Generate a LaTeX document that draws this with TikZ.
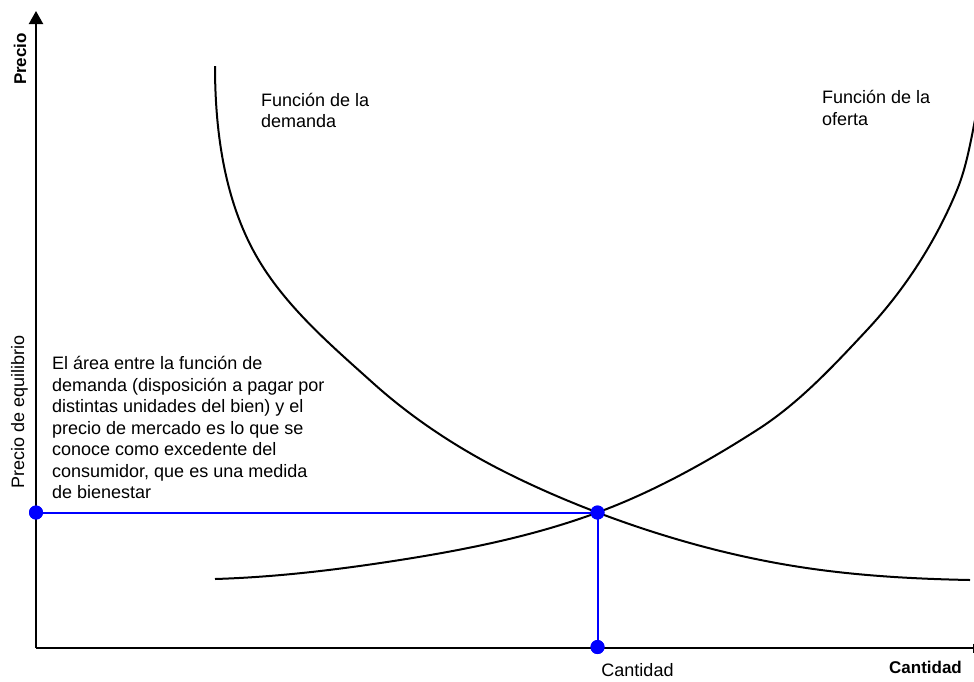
\documentclass[tikz,border=0pt]{standalone}
\usepackage{fontspec}
\setmainfont{Liberation Sans}
\usetikzlibrary{arrows.meta}
\begin{document}
\begin{tikzpicture}[x=1pt,y=-1pt,
  curve/.style={line width=2pt,black},
  axis/.style={line width=2.2pt,black},
  guide/.style={line width=2pt,blue},
  dot/.style={circle,fill=blue,inner sep=0pt,minimum size=14pt},
  lbl/.style={inner sep=0pt,font=\fontsize{18}{21.5}\selectfont},
  boldlbl/.style={inner sep=0pt,font=\fontsize{17}{20}\selectfont\bfseries}]
\useasboundingbox (0,0) rectangle (974,681);
% axes
\coordinate (O) at (36,648);
\coordinate (ytop) at (36,11);
\coordinate (xend) at (973,648);
\draw[axis,-{Triangle[width=14pt,length=13pt]}] (O) -- (ytop);
\draw[axis] (O) -- (xend);
\draw[line width=1pt] (973,643.5) -- (973,653);
% demand curve
\draw[curve] (215,66)
  .. controls (215,128.6) and (223.6,194.8) .. (253,250)
  .. controls (281.1,302.7) and (328.6,343.1) .. (373,383)
  .. controls (413,419) and (458.9,449) .. (507,473)
  .. controls (536.4,487.7) and (566.7,500.8) .. (597.5,512.5)
  .. controls (662.9,537.3) and (730.9,556.3) .. (800,567)
  .. controls (856.1,575.7) and (913.2,578.9) .. (970,580);
% supply curve
\draw[curve] (215,579)
  .. controls (277,577.1) and (338.7,569.6) .. (400,560)
  .. controls (466.9,549.5) and (534,536) .. (597.5,512.5)
  .. controls (653.7,491.7) and (706.6,462.3) .. (757,430)
  .. controls (798.8,403.3) and (833.1,366.3) .. (867,330)
  .. controls (904.9,289.4) and (935.9,241.3) .. (957,190)
  .. controls (966.8,166.1) and (970.8,140.3) .. (976,115);
% equilibrium guides
\node[dot] (pe) at (36,512.5) {};
\node[dot] (eq) at (597.5,512.5) {};
\node[dot] (qe) at (597.5,647) {};
\draw[guide] (pe.center) -- (eq.center) -- (qe.center);
\node[dot] at (pe) {};
\node[dot] at (eq) {};
\node[dot] at (qe) {};
% labels
\node[lbl,anchor=base west] (dem) at (261,106) {\begin{tabular}[t]{@{}l@{}}Función de la\\demanda\end{tabular}};
\node[lbl,anchor=base west] (ofe) at (822,103.5) {\begin{tabular}[t]{@{}l@{}}Función de la\\oferta\end{tabular}};
\node[lbl,anchor=base west] (txt) at (52,369.5) {\begin{tabular}[t]{@{}l@{}}El área entre la función de\\demanda (disposición a pagar por\\distintas unidades del bien) y el\\precio de mercado es lo que se\\conoce como excedente del\\consumidor, que es una medida\\de bienestar\end{tabular}};
\node[boldlbl,anchor=base,rotate=90] (py) at (26,59) {Precio};
\node[lbl,anchor=base,rotate=90] (peq) at (24,412) {Precio de equilibrio};
\node[boldlbl,anchor=base] (qx) at (925.5,673) {Cantidad};
\node[lbl,anchor=base] (qeq) at (637.5,676.5) {Cantidad};
\end{tikzpicture}
\end{document}
